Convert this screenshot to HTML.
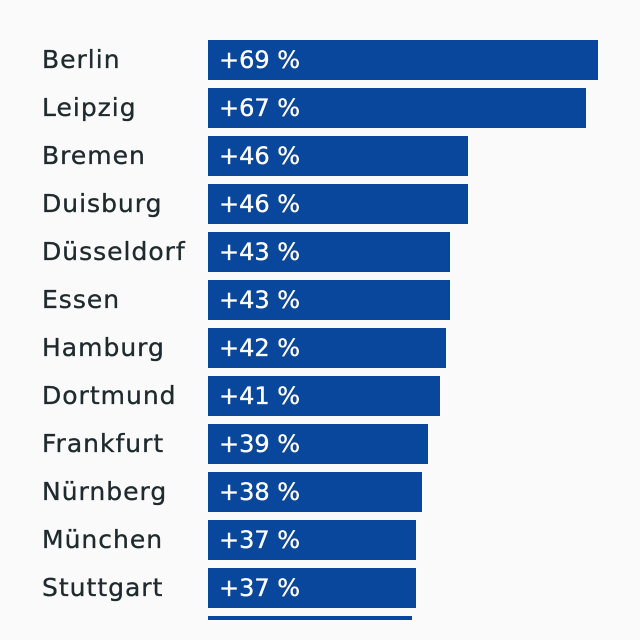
<!DOCTYPE html>
<html>
<head>
<meta charset="utf-8">
<style>
  html, body { margin:0; padding:0; background:#fafafa; }
  body { width:640px; height:640px; overflow:hidden; }
  svg { display:block; }
  .lbl { font-family:"DejaVu Sans","Liberation Sans",sans-serif; font-size:25px; fill:#1e2a2e; stroke:#1e2a2e; stroke-width:0.35px; letter-spacing:1.0px; }
  .val { font-family:"DejaVu Sans","Liberation Sans",sans-serif; font-size:24px; fill:#ffffff; stroke:#ffffff; stroke-width:0.35px; }
  .bar { fill:#08479c; }
</style>
</head>
<body>
<svg width="640" height="640" viewBox="0 0 640 640" xmlns="http://www.w3.org/2000/svg">
  <rect x="0" y="0" width="640" height="640" fill="#fafafa"/>

  <rect class="bar" x="208" y="40" width="390" height="40"/>
  <rect class="bar" x="208" y="88" width="378" height="40"/>
  <rect class="bar" x="208" y="136" width="260" height="40"/>
  <rect class="bar" x="208" y="184" width="260" height="40"/>
  <rect class="bar" x="208" y="232" width="242" height="40"/>
  <rect class="bar" x="208" y="280" width="242" height="40"/>
  <rect class="bar" x="208" y="328" width="238" height="40"/>
  <rect class="bar" x="208" y="376" width="232" height="40"/>
  <rect class="bar" x="208" y="424" width="220" height="40"/>
  <rect class="bar" x="208" y="472" width="214" height="40"/>
  <rect class="bar" x="208" y="520" width="208" height="40"/>
  <rect class="bar" x="208" y="568" width="208" height="40"/>
  <rect class="bar" x="208" y="616" width="204" height="4"/>

  <text class="lbl" x="42" y="68">Berlin</text>
  <text class="lbl" x="42" y="116">Leipzig</text>
  <text class="lbl" x="42" y="164">Bremen</text>
  <text class="lbl" x="42" y="212">Duisburg</text>
  <text class="lbl" x="42" y="260">Düsseldorf</text>
  <text class="lbl" x="42" y="308">Essen</text>
  <text class="lbl" x="42" y="356">Hamburg</text>
  <text class="lbl" x="42" y="404">Dortmund</text>
  <text class="lbl" x="42" y="452">Frankfurt</text>
  <text class="lbl" x="42" y="500">Nürnberg</text>
  <text class="lbl" x="42" y="548">München</text>
  <text class="lbl" x="42" y="596">Stuttgart</text>

  <text class="val" x="219" y="68">+69 %</text>
  <text class="val" x="219" y="116">+67 %</text>
  <text class="val" x="219" y="164">+46 %</text>
  <text class="val" x="219" y="212">+46 %</text>
  <text class="val" x="219" y="260">+43 %</text>
  <text class="val" x="219" y="308">+43 %</text>
  <text class="val" x="219" y="356">+42 %</text>
  <text class="val" x="219" y="404">+41 %</text>
  <text class="val" x="219" y="452">+39 %</text>
  <text class="val" x="219" y="500">+38 %</text>
  <text class="val" x="219" y="548">+37 %</text>
  <text class="val" x="219" y="596">+37 %</text>
</svg>
</body>
</html>
